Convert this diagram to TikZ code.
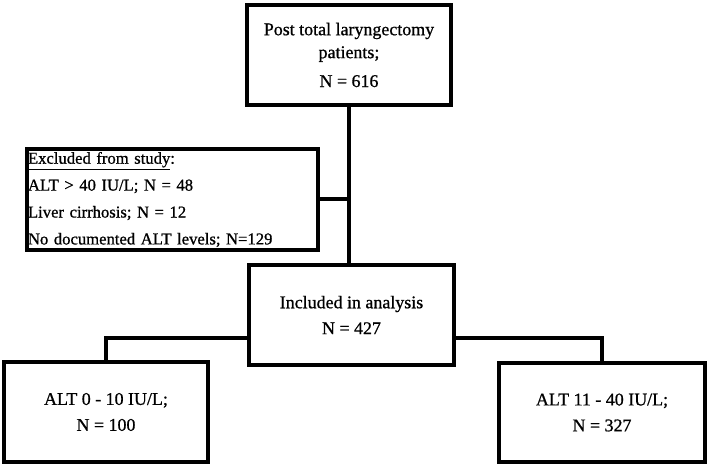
\documentclass[tikz,border=0pt]{standalone}
\usepackage{fontspec}
\setmainfont{Liberation Serif}[FakeBold=0.8]
\begin{document}
\begin{tikzpicture}[x=1bp,y=-1bp,
  box/.style={draw=black,line width=4bp,inner sep=0pt,align=center,
    font=\fontsize{18}{26}\selectfont},
  conn/.style={draw=black,line width=4bp}]
\useasboundingbox[fill=white] (0,0) rectangle (709,466);
\node[box,minimum width=204bp,minimum height=100bp] (top) at (349,55)
  {Post total laryngectomy\\[-3bp]patients;\\[3bp]N = 616};
\node[box,minimum width=291bp,minimum height=101bp,align=left,text width=289bp,
  font=\fontsize{16.7}{26}\selectfont] (excl) at (172.5,199.5)
  {\underline{Excluded from study}:\\[1bp]ALT > 40 IU/L; N = 48\\[1bp]Liver cirrhosis; N = 12\\[1bp]No documented ALT levels; N=129};
\node[box,minimum width=205bp,minimum height=100bp] (incl) at (351.5,315)
  {Included in analysis\\N = 427};
\node[box,minimum width=204bp,minimum height=100bp] (left) at (106,412)
  {ALT 0 - 10 IU/L;\\N = 100};
\node[box,minimum width=206bp,minimum height=99bp] (right) at (602,412.5)
  {ALT 11 - 40 IU/L;\\N = 327};
\coordinate (hl) at (249,338);
\coordinate (hr) at (454,338);
\draw[conn] (top.south) -- (top.south |- incl.north);
\draw[conn] (excl.east) -- (excl.east -| top.south);
\draw[conn] (hl) -| (left.north);
\draw[conn] (hr) -| (right.north);
\end{tikzpicture}
\end{document}
